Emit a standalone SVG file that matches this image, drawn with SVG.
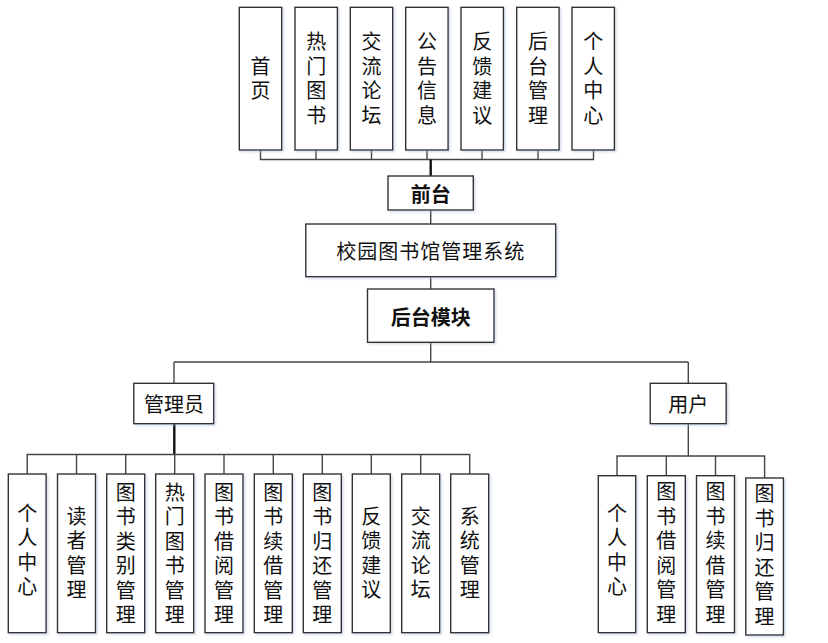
<svg xmlns="http://www.w3.org/2000/svg" width="828" height="643" viewBox="0 0 828 643">
<defs>
<filter id="sh" x="-20%" y="-20%" width="140%" height="140%">
<feDropShadow dx="1.5" dy="1.5" stdDeviation="1.2" flood-color="#9fb4d0" flood-opacity="0.45"/>
</filter>
</defs>
<style>
.box{fill:#fff;stroke:#333;stroke-width:1.4;filter:url(#sh)}
.t{font-family:"Noto Sans CJK SC","Noto Sans",sans-serif;font-size:20px;fill:#111;text-anchor:middle;dominant-baseline:central}
.v{font-family:"Noto Sans CJK SC","Noto Sans",sans-serif;font-size:20px;fill:#111;text-anchor:middle;writing-mode:vertical-rl;letter-spacing:4.5px}
.b{font-weight:bold}
.ln{fill:none;stroke:#444;stroke-width:1.4}
.thick{fill:none;stroke:#111;stroke-width:2.4}
</style>
<rect width="828" height="643" fill="#fff"/>
<g id="connectors">
<path class="ln" d="M260.5,150V159.5H593.5V150M316,150V159.5M371.5,150V159.5M427,150V159.5M482,150V159.5M538,150V159.5"/>
<path class="thick" d="M430.7,159.5V176"/>
<path class="ln" d="M430.7,210V224M430.7,276.7V289M430.7,342.3V362M174,362H688.3M174,362V383.3M688.3,362V383.3"/>
<path class="thick" d="M174.3,423.7V454.5"/>
<path class="ln" d="M27.2,474V454.5H469.7V474M76.5,454.5V474M125.7,454.5V474M174.7,454.5V474M224,454.5V474M273.3,454.5V474M322.3,454.5V474M371.3,454.5V474M420.7,454.5V474"/>
<path class="ln" d="M688.3,423.7V456M617,475.7V456H764.6V478M666.3,456V475.7M715.5,456V475.7"/>
</g>
<g id="n-home"><rect class="box" x="239.3" y="7.3" width="42.4" height="142.7"/><text class="v" x="260.5" y="80.5">首页</text></g>
<g id="n-hotbooks"><rect class="box" x="295" y="7.3" width="42.4" height="142.7"/><text class="v" x="316.2" y="80.5">热门图书</text></g>
<g id="n-forum"><rect class="box" x="350.3" y="7.3" width="42.4" height="142.7"/><text class="v" x="371.5" y="80.5">交流论坛</text></g>
<g id="n-notice"><rect class="box" x="405.7" y="7.3" width="42.4" height="142.7"/><text class="v" x="426.9" y="80.5">公告信息</text></g>
<g id="n-feedback"><rect class="box" x="461" y="7.3" width="42.4" height="142.7"/><text class="v" x="482.2" y="80.5">反馈建议</text></g>
<g id="n-backend"><rect class="box" x="516.7" y="7.3" width="42.4" height="142.7"/><text class="v" x="537.9" y="80.5">后台管理</text></g>
<g id="n-center"><rect class="box" x="572" y="7.3" width="42.4" height="142.7"/><text class="v" x="593.2" y="80.5">个人中心</text></g>
<g id="n-front"><rect class="box" x="388" y="176" width="85.3" height="34"/><text class="t b" x="430.7" y="193.5">前台</text></g>
<g id="n-system"><rect class="box" x="305.8" y="224" width="249.9" height="52.7"/><text class="t" x="430.7" y="250" font-size="21" letter-spacing="1">校园图书馆管理系统</text></g>
<g id="n-module"><rect class="box" x="367.5" y="289" width="126.5" height="53.3"/><text class="t b" x="430.7" y="316">后台模块</text></g>
<g id="n-admin"><rect class="box" x="133.8" y="383.3" width="79.9" height="40.4"/><text class="t" x="174" y="403">管理员</text></g>
<g id="n-user"><rect class="box" x="650.2" y="383.3" width="76" height="40.4"/><text class="t" x="688.3" y="403">用户</text></g>
<g id="a-center"><rect class="box" x="8.3" y="474" width="37.8" height="158.7"/><text class="v" x="27.2" y="552">个人中心</text></g>
<g id="a-readers"><rect class="box" x="57.5" y="474" width="38" height="158.7"/><text class="v" x="76.5" y="555">读者管理</text></g>
<g id="a-category"><rect class="box" x="106.7" y="474" width="38" height="158.7"/><text class="v" x="125.7" y="555.5">图书类别管理</text></g>
<g id="a-hot"><rect class="box" x="155.7" y="474" width="38" height="158.7"/><text class="v" x="174.7" y="555.5">热门图书管理</text></g>
<g id="a-borrow"><rect class="box" x="205" y="474" width="38" height="158.7"/><text class="v" x="224" y="555.5">图书借阅管理</text></g>
<g id="a-renew"><rect class="box" x="254.3" y="474" width="38" height="158.7"/><text class="v" x="273.3" y="555.5">图书续借管理</text></g>
<g id="a-return"><rect class="box" x="303.3" y="474" width="38" height="158.7"/><text class="v" x="322.3" y="555.5">图书归还管理</text></g>
<g id="a-feedback"><rect class="box" x="352.3" y="474" width="38" height="158.7"/><text class="v" x="371.3" y="555">反馈建议</text></g>
<g id="a-forum"><rect class="box" x="401.7" y="474" width="38" height="158.7"/><text class="v" x="420.7" y="555">交流论坛</text></g>
<g id="a-system"><rect class="box" x="450.7" y="474" width="38" height="158.7"/><text class="v" x="469.7" y="555">系统管理</text></g>
<g id="u-center"><rect class="box" x="598.3" y="475.7" width="37.4" height="157"/><text class="v" x="617" y="552">个人中心</text></g>
<g id="u-borrow"><rect class="box" x="647.3" y="475.7" width="38" height="157"/><text class="v" x="666.3" y="555" letter-spacing="4px">图书借阅管理</text></g>
<g id="u-renew"><rect class="box" x="696.5" y="475.7" width="38" height="157"/><text class="v" x="715.5" y="555" letter-spacing="4px">图书续借管理</text></g>
<g id="u-return"><rect class="box" x="745.8" y="478" width="37.6" height="157"/><text class="v" x="764.6" y="557" letter-spacing="4px">图书归还管理</text></g>
</svg>
